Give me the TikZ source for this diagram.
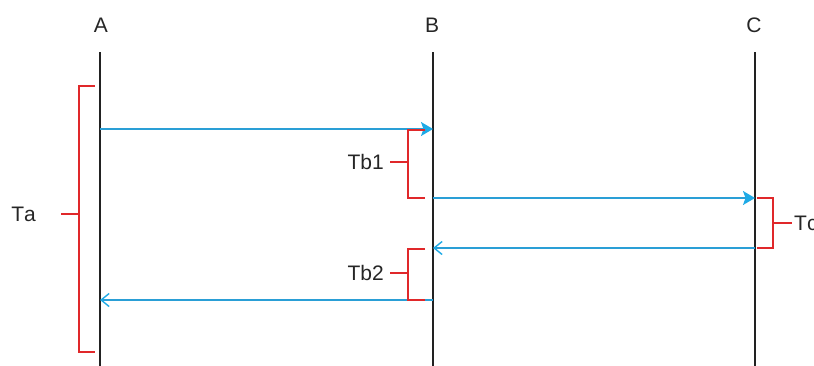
\documentclass[tikz,border=0pt]{standalone}
\usepackage{fontspec}
\setmainfont{Liberation Sans}[Kerning=Off]
\usetikzlibrary{arrows.meta}
\definecolor{msg}{HTML}{2A9FD6}
\definecolor{tip}{HTML}{1EAAE6}
\definecolor{brk}{HTML}{E0282A}
\definecolor{life}{HTML}{222222}
\tikzset{
  lbl/.style={font=\fontsize{21}{24}\selectfont, text=black!85, inner sep=0pt},
  lifeline/.style={draw=life, line width=1.3pt},
  callmsg/.style={draw=msg, line width=1.3pt, -{Stealth[length=12pt,width=14pt,inset=2.5pt,color=tip]}},
  retmsg/.style={draw=msg, line width=1.3pt, -{Straight Barb[length=8pt,width=13pt,line width=1.4pt,color=tip]}},
  bracket/.style={draw=brk, line width=1.3pt},
}
\begin{document}
\begin{tikzpicture}[x=1pt,y=-1pt]
\useasboundingbox (0,0) rectangle (814,365);
% lifeline labels
\node[lbl] (A) at (101,25) {A};
\node[lbl] (B) at (432,25) {B};
\node[lbl] (C) at (754,25) {C};
% lifelines
\coordinate (At) at (100,52); \coordinate (Ab) at (100,366);
\coordinate (Bt) at (433,52); \coordinate (Bb) at (433,366);
\coordinate (Ct) at (755,52); \coordinate (Cb) at (755,366);
\draw[lifeline] (At) -- (Ab);
\draw[lifeline] (Bt) -- (Bb);
\draw[lifeline] (Ct) -- (Cb);
% message points
\coordinate (A1) at (100,129); \coordinate (B1) at (433,129);
\coordinate (B2) at (433,198); \coordinate (C2) at (755,198);
\coordinate (C3) at (755,248); \coordinate (B3) at (433,248);
\coordinate (B4) at (433,300); \coordinate (A4) at (100,300);
\draw[callmsg] (A1) -- (B1);
\draw[callmsg] (B2) -- (C2);
\draw[retmsg] (C3) -- (B3);
\draw[retmsg] (B4) -- (A4);
% bracket Ta
\coordinate (Ta1) at (95,86); \coordinate (Ta2) at (79,86);
\coordinate (Ta3) at (79,352); \coordinate (Ta4) at (95,352);
\coordinate (Tam) at (79,214); \coordinate (Tat) at (61,214);
\draw[bracket] (Ta1) -- (Ta2) -- (Ta3) -- (Ta4);
\draw[bracket] (Tam) -- (Tat);
\node[lbl, anchor=east] (Ta) at (36,214) {Ta};
% bracket Tb1
\coordinate (Tb11) at (425,130); \coordinate (Tb12) at (408,130);
\coordinate (Tb13) at (408,198); \coordinate (Tb14) at (425,198);
\coordinate (Tb1m) at (408,162); \coordinate (Tb1t) at (390,162);
\draw[bracket] (Tb11) -- (Tb12) -- (Tb13) -- (Tb14);
\draw[bracket] (Tb1m) -- (Tb1t);
\node[lbl, anchor=east] (Tb1) at (384,162) {Tb1};
% bracket Tb2
\coordinate (Tb21) at (425,249); \coordinate (Tb22) at (408,249);
\coordinate (Tb23) at (408,300); \coordinate (Tb24) at (425,300);
\coordinate (Tb2m) at (408,273); \coordinate (Tb2t) at (390,273);
\draw[bracket] (Tb21) -- (Tb22) -- (Tb23) -- (Tb24);
\draw[bracket] (Tb2m) -- (Tb2t);
\node[lbl, anchor=east] (Tb2) at (384,273) {Tb2};
% bracket Tc
\coordinate (Tc1) at (757,198); \coordinate (Tc2) at (773,198);
\coordinate (Tc3) at (773,248); \coordinate (Tc4) at (757,248);
\coordinate (Tcm) at (773,223); \coordinate (Tct) at (792,223);
\draw[bracket] (Tc1) -- (Tc2) -- (Tc3) -- (Tc4);
\draw[bracket] (Tcm) -- (Tct);
\node[lbl, anchor=west] (Tc) at (794,223) {Tc};
\end{tikzpicture}
\end{document}
